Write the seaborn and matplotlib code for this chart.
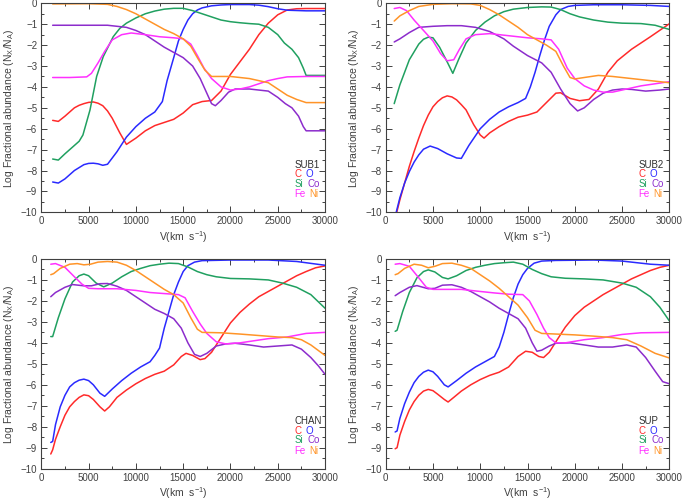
import matplotlib
matplotlib.use("Agg")
import matplotlib.pyplot as plt
from matplotlib.ticker import MultipleLocator
import seaborn as sns

sns.set_style("ticks")
plt.rcParams['font.family'] = ['Liberation Sans', 'DejaVu Sans']
plt.rcParams['mathtext.fontset'] = 'custom'
plt.rcParams['mathtext.rm'] = 'Liberation Sans'
plt.rcParams['mathtext.it'] = 'Liberation Sans'

elements = ['C', 'O', 'Si', 'Co', 'Fe', 'Ni']
colors = {'C': '#ff2a2a', 'O': '#2a2aff', 'Si': '#20a060', 'Co': '#8c2ccc',
          'Fe': '#ff30ff', 'Ni': '#ff9428'}
models = ['SUB1', 'SUB2', 'CHAN', 'SUP']

# ---- SUB1 ----
sub1_C = [(1200, -5.6), (1800, -5.65), (2500, -5.4), (3000, -5.2), (3500, -5.0), (4000, -4.88),
          (4500, -4.8), (5000, -4.74), (5500, -4.72), (6000, -4.78), (6500, -4.9), (7000, -5.15),
          (7500, -5.5), (8300, -6.2), (9000, -6.75), (10000, -6.45), (11000, -6.1),
          (12000, -5.85), (13000, -5.7), (14000, -5.55), (15000, -5.25), (16000, -4.85),
          (17000, -4.7), (18000, -4.65), (19000, -4.2), (20000, -3.4), (21000, -2.8),
          (22000, -2.2), (23000, -1.5), (24000, -0.95), (25000, -0.55), (26000, -0.32),
          (27000, -0.26), (28000, -0.25), (30000, -0.25)]
sub1_O = [(1200, -8.55), (1800, -8.6), (2500, -8.4), (3500, -8.0), (4500, -7.72), (5000, -7.66),
          (5500, -7.65), (6000, -7.68), (6500, -7.75), (7000, -7.7), (8000, -7.1), (9000, -6.4),
          (10000, -5.9), (11000, -5.5), (12000, -5.2), (12800, -4.7), (13300, -3.7),
          (14000, -2.6), (14500, -1.8), (15000, -1.25), (15500, -0.8), (16000, -0.5),
          (16500, -0.32), (17000, -0.22), (18000, -0.12), (19000, -0.08), (20000, -0.06),
          (22000, -0.06), (23000, -0.09), (24000, -0.16), (25000, -0.26), (26000, -0.33),
          (28000, -0.36), (30000, -0.36)]
sub1_Si = [(1200, -7.45), (1800, -7.5), (2500, -7.2), (3500, -6.8), (4000, -6.6), (4400, -6.3),
           (5150, -5.1), (5850, -3.5), (6550, -2.55), (7600, -1.6), (8300, -1.2), (9000, -0.95),
           (10000, -0.7), (11000, -0.5), (12000, -0.37), (13000, -0.28), (14000, -0.24),
           (15000, -0.24), (16000, -0.35), (17000, -0.5), (18000, -0.65), (19000, -0.8),
           (20000, -0.88), (21000, -0.93), (22000, -0.97), (23000, -1.0), (24000, -1.15),
           (25000, -1.5), (25700, -1.9), (26500, -2.2), (27200, -2.6), (27700, -3.1),
           (28000, -3.45), (30000, -3.45)]
sub1_Co = [(1200, -1.05), (3000, -1.05), (5000, -1.05), (7000, -1.05), (8000, -1.1), (9000, -1.15),
           (10000, -1.3), (11000, -1.5), (12000, -1.8), (13000, -2.1), (14000, -2.35),
           (15000, -2.6), (16000, -3.0), (16800, -3.6), (17500, -4.3), (18000, -4.8),
           (18400, -4.9), (19000, -4.65), (19800, -4.25), (20500, -4.1), (22000, -4.1),
           (24000, -4.2), (25000, -4.5), (25800, -4.8), (26500, -5.0), (27200, -5.4),
           (27700, -5.9), (28000, -6.1), (30000, -6.1)]
sub1_Fe = [(1200, -3.55), (3000, -3.55), (4800, -3.52), (5300, -3.35), (6000, -2.85), (6700, -2.3),
           (7500, -1.75), (8500, -1.5), (9500, -1.42), (11000, -1.5), (12500, -1.6),
           (14000, -1.65), (15000, -1.7), (15800, -1.95), (16500, -2.5), (17200, -3.1),
           (18000, -3.6), (19000, -4.0), (20000, -4.15), (21000, -4.1), (22000, -4.0),
           (23000, -3.85), (24000, -3.7), (25000, -3.6), (26000, -3.52), (28000, -3.5),
           (30000, -3.5)]
sub1_Ni = [(1200, -0.03), (5000, -0.02), (7000, -0.05), (8000, -0.15), (9000, -0.3), (10000, -0.5),
           (11000, -0.75), (12000, -1.0), (13000, -1.25), (14000, -1.45), (15000, -1.7),
           (15800, -2.05), (16500, -2.6), (17300, -3.2), (18000, -3.5), (19000, -3.5),
           (20000, -3.5), (22000, -3.6), (24000, -3.8), (25000, -4.1), (26000, -4.4),
           (27000, -4.6), (28000, -4.75), (30000, -4.75)]

# ---- SUB2 ----
sub2_C = [(1000, -10.3), (1500, -9.4), (2000, -8.6), (2500, -7.8), (3000, -7.1), (3500, -6.45),
          (4000, -5.85), (4500, -5.35), (5000, -4.95), (5500, -4.7), (6000, -4.52), (6500, -4.43),
          (7000, -4.48), (7500, -4.62), (8000, -4.85), (8500, -5.1), (9300, -5.8), (10000, -6.3),
          (10400, -6.45), (11000, -6.2), (12000, -5.9), (13000, -5.65), (14000, -5.45),
          (15000, -5.35), (16000, -5.2), (17000, -4.75), (18000, -4.3), (18500, -4.28),
          (19500, -4.55), (20500, -4.66), (21500, -4.6), (22500, -4.1), (23500, -3.3),
          (24500, -2.75), (26000, -2.2), (28000, -1.6), (30000, -0.98)]
sub2_O = [(1000, -10.2), (1500, -9.3), (2000, -8.6), (2500, -8.05), (3000, -7.6), (3500, -7.25),
          (4000, -6.98), (4700, -6.83), (5500, -6.95), (6500, -7.2), (7500, -7.4), (8000, -7.42),
          (8800, -6.8), (10000, -6.0), (11000, -5.55), (12000, -5.2), (13000, -4.95),
          (14000, -4.75), (14800, -4.55), (15300, -4.0), (15800, -3.3), (16300, -2.5),
          (16800, -1.75), (17300, -1.1), (18000, -0.55), (18500, -0.3), (19300, -0.15),
          (20000, -0.1), (22000, -0.07), (25000, -0.07), (28000, -0.1), (30000, -0.15)]
sub2_Si = [(900, -4.8), (1500, -3.9), (2500, -2.7), (3500, -1.95), (4000, -1.72), (4500, -1.62),
           (5000, -1.65), (5700, -2.1), (6500, -2.8), (7100, -3.35), (7700, -2.7), (8500, -1.9),
           (9500, -1.3), (10500, -0.9), (11500, -0.6), (12500, -0.4), (13500, -0.28),
           (15000, -0.2), (16500, -0.17), (17500, -0.18), (18500, -0.3), (19500, -0.5),
           (20500, -0.65), (22000, -0.8), (23500, -0.9), (25000, -0.95), (27000, -0.97),
           (28500, -1.05), (30000, -1.25)]
sub2_Co = [(900, -1.85), (1500, -1.7), (2500, -1.4), (3500, -1.15), (5000, -1.1), (6500, -1.07),
           (8000, -1.07), (9500, -1.15), (11000, -1.35), (12500, -1.7), (13500, -2.05),
           (15000, -2.5), (16500, -2.85), (17500, -3.3), (18500, -4.1), (19500, -4.8),
           (20300, -5.15), (21000, -5.0), (22000, -4.6), (23000, -4.3), (24000, -4.15),
           (25000, -4.1), (26000, -4.12), (27500, -4.2), (29000, -4.15), (30000, -4.1)]
sub2_Fe = [(900, -0.25), (1500, -0.2), (2200, -0.35), (3000, -0.8), (4000, -1.3), (5000, -1.8),
           (5800, -2.4), (6500, -2.75), (7200, -2.7), (7800, -2.2), (8500, -1.7), (9500, -1.5),
           (11000, -1.45), (13000, -1.55), (15000, -1.65), (16500, -1.7), (17500, -1.75),
           (18300, -2.2), (19200, -3.1), (20000, -3.6), (21000, -3.95), (22000, -4.15),
           (23000, -4.25), (24000, -4.25), (25000, -4.15), (27000, -3.95), (28500, -3.85),
           (30000, -3.75)]
sub2_Ni = [(900, -0.85), (1500, -0.6), (2500, -0.35), (3500, -0.15), (5000, -0.05), (7000, -0.02),
           (9000, -0.03), (10000, -0.1), (11000, -0.3), (12000, -0.55), (13000, -0.85),
           (14000, -1.15), (15000, -1.5), (16000, -1.75), (17000, -2.0), (18000, -2.3),
           (18800, -3.0), (19500, -3.55), (20000, -3.62), (21000, -3.55), (22500, -3.45),
           (24000, -3.5), (26000, -3.6), (28000, -3.7), (30000, -3.8)]

# ---- CHAN ----
chan_C = [(1000, -9.3), (1200, -9.1), (1500, -8.6), (2000, -8.0), (2500, -7.45), (3000, -7.05),
          (3500, -6.8), (4000, -6.6), (4500, -6.48), (5000, -6.52), (5500, -6.7), (6200, -7.05),
          (6700, -7.25), (7200, -7.05), (8000, -6.6), (9000, -6.25), (10000, -5.95),
          (11000, -5.7), (12000, -5.5), (13000, -5.35), (14000, -5.05), (14800, -4.65),
          (15300, -4.5), (16000, -4.6), (16800, -4.8), (17300, -4.75), (18000, -4.45),
          (19000, -3.75), (20000, -3.05), (21000, -2.55), (22000, -2.15), (23000, -1.8),
          (24000, -1.55), (25000, -1.3), (26000, -1.05), (27000, -0.8), (28000, -0.6),
          (29000, -0.42), (30000, -0.33)]
chan_O = [(1000, -8.75), (1200, -8.7), (1500, -7.9), (2000, -7.05), (2500, -6.5), (3000, -6.1),
          (3500, -5.9), (4000, -5.78), (4500, -5.73), (5000, -5.8), (5500, -6.0), (6200, -6.4),
          (6700, -6.55), (7500, -6.2), (8500, -5.8), (9500, -5.45), (10500, -5.15),
          (11500, -4.9), (12000, -4.6), (12500, -4.25), (13000, -3.3), (13500, -2.5),
          (14000, -1.7), (14500, -1.1), (15000, -0.6), (15500, -0.32), (16200, -0.15),
          (17000, -0.08), (20000, -0.05), (24000, -0.05), (27000, -0.12), (30000, -0.3)]
chan_Si = [(1000, -3.7), (1200, -3.7), (1800, -2.8), (2500, -1.9), (3300, -1.1), (4000, -0.8),
           (4500, -0.72), (5000, -0.8), (5800, -1.15), (6600, -1.33), (7500, -1.15), (8500, -0.85),
           (9500, -0.6), (10500, -0.45), (11500, -0.32), (12500, -0.25), (13500, -0.2),
           (14500, -0.22), (15500, -0.38), (16500, -0.6), (17500, -0.75), (18500, -0.85),
           (20000, -0.93), (22000, -0.95), (24000, -1.0), (25500, -1.15), (27000, -1.35),
           (28500, -1.7), (30000, -2.35)]
chan_Co = [(1000, -1.8), (1500, -1.6), (2500, -1.35), (3300, -1.22), (4500, -1.28), (5300, -1.28),
           (6200, -1.18), (7000, -1.17), (8000, -1.3), (9000, -1.5), (10000, -1.8), (11000, -2.1),
           (12000, -2.4), (13000, -2.6), (14000, -2.85), (14800, -3.3), (15500, -4.0),
           (16200, -4.55), (16800, -4.65), (17500, -4.5), (18500, -4.15), (19500, -4.05),
           (20500, -4.02), (22000, -4.1), (23500, -4.2), (25000, -4.15), (26500, -4.1),
           (27500, -4.3), (28500, -4.7), (29300, -5.1), (30000, -5.5)]
chan_Fe = [(1000, -0.25), (1500, -0.22), (2500, -0.4), (3500, -0.85), (4300, -1.2), (5000, -1.4),
           (6000, -1.42), (8000, -1.42), (10000, -1.5), (11500, -1.6), (13000, -1.65),
           (14500, -1.7), (15200, -1.85), (16000, -2.5), (16800, -3.1), (17500, -3.55),
           (18500, -3.95), (19500, -4.05), (21000, -4.0), (22500, -3.9), (24000, -3.8),
           (26000, -3.72), (28000, -3.55), (30000, -3.5)]
chan_Ni = [(1000, -0.75), (1300, -0.7), (2000, -0.45), (3000, -0.25), (3800, -0.22), (4500, -0.28),
           (5200, -0.25), (6000, -0.15), (7000, -0.12), (8000, -0.15), (9000, -0.3),
           (10000, -0.55), (11000, -0.85), (12000, -1.15), (13000, -1.45), (14000, -1.7),
           (15000, -2.1), (15800, -2.8), (16500, -3.35), (17000, -3.5), (19000, -3.52),
           (21000, -3.58), (23000, -3.65), (25000, -3.72), (26500, -3.75), (27500, -3.85),
           (28500, -4.1), (30000, -4.6)]

# ---- SUP ----
sup_C = [(1000, -9.05), (1200, -9.0), (1500, -8.4), (2000, -7.75), (2500, -7.2), (3000, -6.8),
         (3500, -6.5), (4000, -6.3), (4500, -6.22), (5000, -6.28), (5500, -6.45), (6200, -6.7),
         (6600, -6.82), (7200, -6.6), (8000, -6.3), (9000, -6.0), (10000, -5.75), (11000, -5.55),
         (12000, -5.4), (13000, -5.15), (14000, -4.65), (14800, -4.4), (15500, -4.45),
         (16200, -4.65), (16700, -4.7), (17300, -4.45), (18000, -3.95), (19000, -3.25),
         (20000, -2.7), (21000, -2.3), (22000, -2.0), (23000, -1.7), (24000, -1.45),
         (25000, -1.2), (26000, -0.95), (27000, -0.75), (28000, -0.55), (29000, -0.4),
         (30000, -0.3)]
sup_O = [(1000, -8.25), (1200, -8.2), (1500, -7.6), (2000, -6.9), (2500, -6.35), (3000, -5.9),
         (3500, -5.6), (4000, -5.4), (4500, -5.3), (5000, -5.38), (5500, -5.6), (6200, -6.0),
         (6600, -6.1), (7500, -5.8), (8500, -5.45), (9500, -5.15), (10500, -4.9), (11500, -4.65),
         (12000, -4.2), (12500, -3.5), (13000, -2.65), (13500, -1.85), (14000, -1.2),
         (14500, -0.75), (15000, -0.45), (15700, -0.2), (16500, -0.1), (18000, -0.07),
         (22000, -0.05), (25000, -0.1), (28000, -0.25), (30000, -0.3)]
sup_Si = [(1000, -3.45), (1200, -3.4), (1800, -2.5), (2500, -1.6), (3300, -0.9), (4000, -0.6),
          (4500, -0.52), (5200, -0.62), (6000, -0.88), (6600, -0.95), (7500, -0.8), (8500, -0.55),
          (9500, -0.4), (10500, -0.3), (11500, -0.22), (12500, -0.18), (13500, -0.15),
          (14500, -0.25), (15500, -0.5), (16500, -0.7), (17500, -0.85), (19000, -0.92),
          (21000, -0.95), (23000, -1.0), (25000, -1.15), (26500, -1.35), (28000, -1.8),
          (29000, -2.3), (30000, -2.95)]
sup_Co = [(1000, -1.75), (1500, -1.6), (2500, -1.35), (3300, -1.27), (4500, -1.42), (5200, -1.4),
          (6000, -1.25), (7000, -1.23), (8000, -1.35), (9000, -1.55), (10000, -1.8), (11000, -2.05),
          (12000, -2.35), (13000, -2.6), (14000, -2.85), (14800, -3.3), (15500, -4.0),
          (16000, -4.4), (16500, -4.35), (17300, -4.15), (18000, -4.02), (19500, -4.0),
          (21000, -4.1), (22500, -4.2), (24000, -4.2), (25500, -4.1), (26500, -4.2),
          (27500, -4.7), (28500, -5.35), (29300, -5.85), (30000, -5.95)]
sup_Fe = [(1000, -0.25), (1500, -0.22), (2500, -0.35), (3500, -0.9), (4300, -1.35), (5000, -1.45),
          (6000, -1.45), (8000, -1.45), (10000, -1.55), (11500, -1.62), (13000, -1.68),
          (14500, -1.7), (15200, -2.0), (16000, -2.65), (16700, -3.3), (17300, -3.75),
          (18000, -4.0), (19000, -4.0), (21000, -3.85), (23000, -3.75), (25000, -3.6),
          (27000, -3.52), (30000, -3.5)]
sup_Ni = [(1000, -0.75), (1300, -0.7), (2000, -0.45), (3000, -0.25), (3800, -0.3), (4500, -0.42),
          (5200, -0.35), (6000, -0.22), (7000, -0.2), (8000, -0.3), (9000, -0.45), (10000, -0.75),
          (11000, -1.05), (12000, -1.4), (13000, -1.8), (14000, -2.2), (15000, -2.8),
          (15800, -3.4), (16500, -3.55), (18000, -3.58), (20000, -3.62), (22000, -3.68),
          (24000, -3.75), (25500, -3.85), (27000, -4.15), (28500, -4.5), (30000, -4.72)]

data = {
    'SUB1': [sub1_C, sub1_O, sub1_Si, sub1_Co, sub1_Fe, sub1_Ni],
    'SUB2': [sub2_C, sub2_O, sub2_Si, sub2_Co, sub2_Fe, sub2_Ni],
    'CHAN': [chan_C, chan_O, chan_Si, chan_Co, chan_Fe, chan_Ni],
    'SUP': [sup_C, sup_O, sup_Si, sup_Co, sup_Fe, sup_Ni],
}

fig = plt.figure(figsize=(6.84, 5.01), dpi=100)
positions = [
    [0.0604, 0.5762, 0.4148, 0.4172],
    [0.5639, 0.5762, 0.4146, 0.4172],
    [0.0604, 0.0645, 0.4148, 0.4186],
    [0.5639, 0.0645, 0.4146, 0.4186],
]
axis_col = '#404040'

for model, pos in zip(models, positions):
    ax = fig.add_axes(pos)
    for el, pts in zip(elements, data[model]):
        xs = [p[0] for p in pts]
        ys = [p[1] for p in pts]
        sns.lineplot(x=xs, y=ys, ax=ax, color=colors[el], linewidth=1.1, sort=False,
                     estimator=None)
    ax.set_xlim(0, 30000)
    ax.set_ylim(-10, 0)
    ax.xaxis.set_major_locator(MultipleLocator(5000))
    ax.xaxis.set_minor_locator(MultipleLocator(2500))
    ax.yaxis.set_major_locator(MultipleLocator(1))
    ax.yaxis.set_minor_locator(MultipleLocator(0.5))
    ax.tick_params(which='both', direction='in', top=True, right=True,
                   colors=axis_col, labelsize=7, width=0.7, pad=3)
    ax.tick_params(which='major', length=4)
    ax.tick_params(which='minor', length=2)
    for sp in ax.spines.values():
        sp.set_color(axis_col)
        sp.set_linewidth(0.8)
    ax.set_yticks(range(-10, 1))
    ax.set_yticklabels(['\u221210', '\u22129', '\u22128', '\u22127', '\u22126', '\u22125',
                        '\u22124', '\u22123', '\u22122', '\u22121', '0'])
    ax.set_xlabel('V(km  s$^{-1}$)', fontsize=7.5, color=axis_col, labelpad=2)
    ax.set_ylabel('Log Fractional abundance (N$_X$/N$_A$)', fontsize=7.5, color=axis_col,
                  labelpad=3)

    ax.text(0.891, 0.228, model, transform=ax.transAxes, fontsize=7, color='#303030',
            va='center')
    ax.text(0.891, 0.182, 'C', transform=ax.transAxes, fontsize=7, color=colors['C'], va='center')
    ax.text(0.931, 0.182, 'O', transform=ax.transAxes, fontsize=7, color=colors['O'], va='center')
    ax.text(0.891, 0.135, 'Si', transform=ax.transAxes, fontsize=7, color=colors['Si'], va='center')
    ax.text(0.937, 0.135, 'Co', transform=ax.transAxes, fontsize=7, color=colors['Co'], va='center')
    ax.text(0.891, 0.086, 'Fe', transform=ax.transAxes, fontsize=7, color=colors['Fe'], va='center')
    ax.text(0.943, 0.086, 'Ni', transform=ax.transAxes, fontsize=7, color=colors['Ni'], va='center')

plt.savefig('out.png', dpi=100)
